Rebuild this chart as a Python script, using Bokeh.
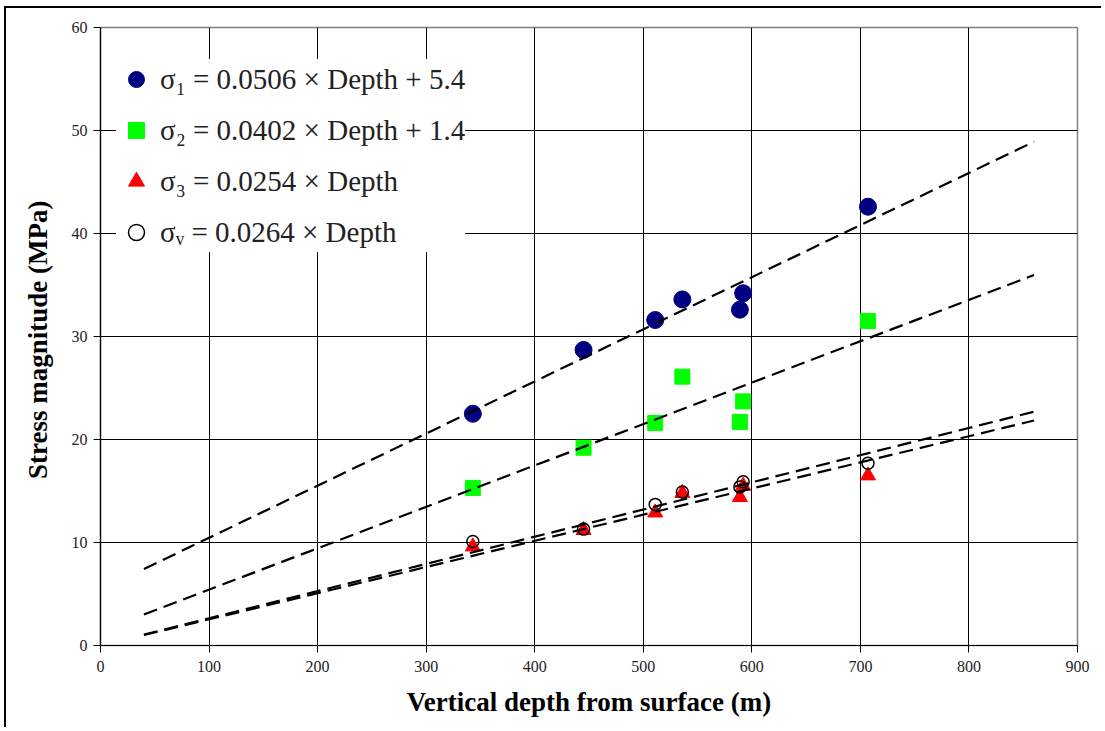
from bokeh.plotting import figure
from bokeh.models import ColumnDataSource, Legend, LegendItem, FixedTicker
from bokeh.embed import file_html
from bokeh.resources import INLINE

# ---- data ----
depth = [343, 445, 511, 536, 589, 592, 707]
sigma1 = [22.5, 28.7, 31.6, 33.6, 32.6, 34.2, 42.6]
sigma2 = [15.3, 19.2, 21.6, 26.1, 21.7, 23.7, 31.5]
sigma3 = [9.6, 11.2, 12.9, 14.8, 14.4, 15.5, 16.5]
sigmav = [10.1, 11.3, 13.7, 14.9, 15.4, 15.9, 17.7]

# fitted trend lines (from the legend equations), drawn over this depth span
fit_span = [40, 860]
fit_slope = [0.0506, 0.0402, 0.0254, 0.0264]
fit_intercept = [5.4, 1.4, 0.0, 0.0]

labels = [
    "σ₁ = 0.0506 × Depth + 5.4",
    "σ₂ = 0.0402 × Depth + 1.4",
    "σ₃ = 0.0254 × Depth",
    "σᵥ = 0.0264 × Depth",
]

x_ticks = list(range(0, 1000, 100))
y_ticks = list(range(0, 70, 10))

FONT = "Liberation Serif"

p = figure(width=1097, height=721, output_backend="svg", toolbar_location=None,
           x_range=(0, 900), y_range=(0, 60),
           min_border_left=94, min_border_right=26, min_border_top=19, min_border_bottom=84,
           background_fill_color="white", border_fill_color="white")
# outer frame of the picture (left and top edges)
p.styles = {"border-left": "2px solid black", "border-top": "2px solid black",
            "margin-left": "4px", "margin-top": "6px"}

p.outline_line_color = "#808080"
p.outline_line_width = 1.5

# grids
for g in (p.xgrid, p.ygrid):
    g.grid_line_color = "black"
    g.grid_line_width = 1
p.xaxis.ticker = FixedTicker(ticks=x_ticks)
p.yaxis.ticker = FixedTicker(ticks=y_ticks)

for ax in (p.xaxis, p.yaxis):
    ax.axis_line_color = "black"
    ax.axis_line_width = 1.2
    ax.major_tick_line_color = "black"
    ax.major_tick_out = 7
    ax.major_tick_in = 0
    ax.minor_tick_line_color = None
    ax.major_label_text_font = FONT
    ax.major_label_text_font_size = "16px"
    ax.major_label_text_color = "#222222"
    ax.axis_label_text_font = FONT
    ax.axis_label_text_font_style = "bold"
    ax.axis_label_text_font_size = "27px"
    ax.axis_label_text_color = "black"

p.xaxis.axis_label = "Vertical depth from surface (m)"
p.yaxis.axis_label = "Stress magnitude  (MPa)"
p.xaxis.axis_label_standoff = 12
p.yaxis.axis_label_standoff = 16
p.xaxis.major_label_standoff = 8
p.yaxis.major_label_standoff = 6

src = ColumnDataSource(dict(d=depth, s1=sigma1, s2=sigma2, s3=sigma3, sv=sigmav))

r1 = p.scatter("d", "s1", source=src, marker="circle", size=17,
               fill_color="#000080", line_color="#000080")
r2 = p.scatter("d", "s2", source=src, marker="square", size=15,
               fill_color="#00FF00", line_color="#00FF00")
r3 = p.scatter("d", "s3", source=src, marker="triangle", size=15,
               fill_color="#FF0000", line_color="#FF0000")
rv = p.scatter("d", "sv", source=src, marker="circle", size=12,
               fill_color=None, line_color="black", line_width=1.5)

for m, b in zip(fit_slope, fit_intercept):
    ys = [m * x + b for x in fit_span]
    p.line(fit_span, ys, line_color="black", line_width=2.2, line_dash="14 7")

legend = Legend(items=[LegendItem(label=l, renderers=[r]) for l, r in zip(labels, [r1, r2, r3, rv])],
                location=(16, 393), orientation="vertical",
                glyph_width=40, glyph_height=40, label_height=40,
                spacing=11, padding=8, label_standoff=4,
                label_text_font=FONT, label_text_font_size="29px",
                label_text_font_style="normal", label_text_color="#222222",
                background_fill_color="white", background_fill_alpha=1.0,
                border_line_color=None, margin=0)
p.add_layout(legend)

open("out.html", "w").write(file_html(p, INLINE))
